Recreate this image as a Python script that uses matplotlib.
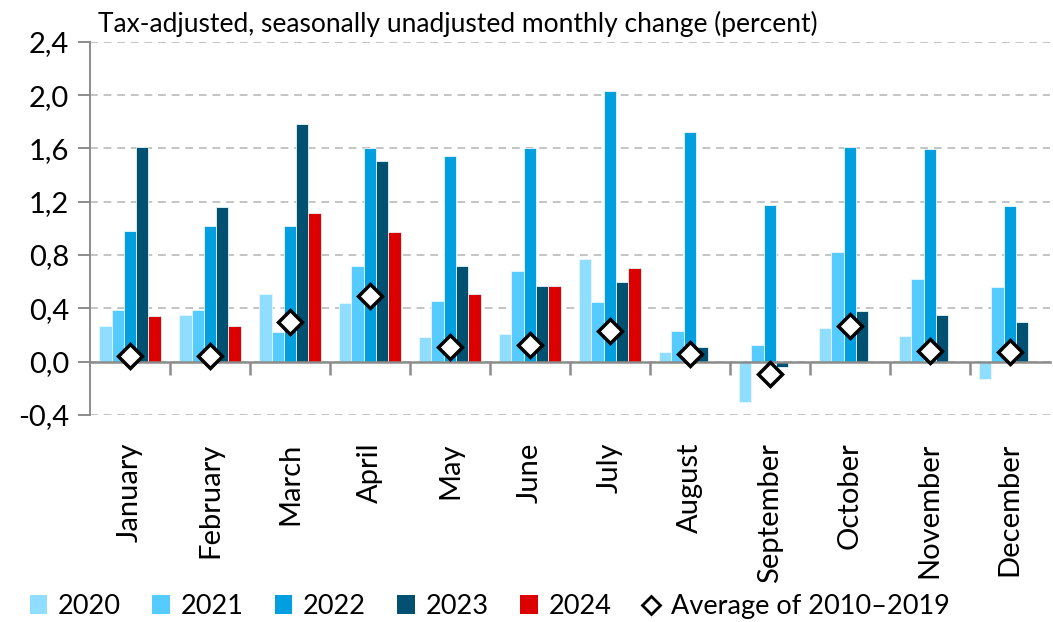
import matplotlib
matplotlib.use('Agg')
import matplotlib.pyplot as plt
from matplotlib.lines import Line2D
from matplotlib.patches import Patch
import numpy as np

plt.rcParams['font.family'] = ['Lato', 'DejaVu Sans']

months = ['January', 'February', 'March', 'April', 'May', 'June', 'July',
          'August', 'September', 'October', 'November', 'December']
years = ['2020', '2021', '2022', '2023', '2024']
y2020 = [0.27, 0.35, 0.505, 0.44, 0.185, 0.21, 0.77, 0.07, -0.30, 0.255, 0.195, -0.13]
y2021 = [0.39, 0.385, 0.22, 0.72, 0.455, 0.68, 0.445, 0.23, 0.125, 0.825, 0.62, 0.56]
y2022 = [0.98, 1.015, 1.02, 1.60, 1.545, 1.60, 2.03, 1.72, 1.175, 1.61, 1.595, 1.17]
y2023 = [1.61, 1.16, 1.78, 1.505, 0.72, 0.565, 0.60, 0.11, -0.04, 0.38, 0.35, 0.30]
y2024 = [0.34, 0.27, 1.115, 0.97, 0.505, 0.57, 0.70]
avg_2010_2019 = [0.04, 0.04, 0.30, 0.49, 0.11, 0.125, 0.23, 0.06, -0.09, 0.27, 0.08, 0.075]
yticks = [-0.4, 0.0, 0.4, 0.8, 1.2, 1.6, 2.0, 2.4]

colors = ['#8FDDFF', '#55CBFF', '#009FE0', '#005072', '#DD0000']
series = [y2020, y2021, y2022, y2023, y2024]

fig = plt.figure(figsize=(10.53, 6.22), dpi=100)
ax = fig.add_axes([0.0855, 0.333, 0.9115, 0.5997])

x = np.arange(len(months))
w = 0.154
for i, (vals, c) in enumerate(zip(series, colors)):
    xs = x[:len(vals)] + (i - 2) * w
    ax.bar(xs, vals, width=w, color=c, edgecolor='#E8F6FC', linewidth=0.6, zorder=3)

ax.plot(x, avg_2010_2019, linestyle='none', marker='D', markersize=12,
        markerfacecolor='white', markeredgecolor='black', markeredgewidth=2.5, zorder=5)

ax.set_xlim(-0.5, len(months) - 0.5)
ax.set_ylim(-0.4, 2.4)
ax.set_yticks(yticks)
ax.set_yticklabels([f'{v:.1f}'.replace('.', ',') for v in yticks], fontsize=21)
ax.yaxis.grid(True, linestyle=(0, (4, 3)), color='#C4C4C4', linewidth=1.4, zorder=0)
ax.tick_params(axis='y', length=9, width=1.4, color='#8C8C8C', pad=6)

for s in ['top', 'right']:
    ax.spines[s].set_visible(False)
ax.spines['left'].set_color('#8C8C8C')
ax.spines['left'].set_linewidth(1.4)
ax.spines['bottom'].set_position(('data', 0))
ax.spines['bottom'].set_color('#8C8C8C')
ax.spines['bottom'].set_linewidth(1.8)
ax.spines['bottom'].set_zorder(4)
ax.set_xticks(x)
ax.set_xticklabels([])
ax.tick_params(axis='x', which='major', length=0)
ax.set_xticks(np.arange(0.5, len(months) - 0.5), minor=True)
ax.tick_params(axis='x', which='minor', length=9, width=1.8, color='#8C8C8C')

sec = ax.secondary_xaxis(-0.0)
sec.set_xticks(x)
sec.set_xticklabels(months, rotation=90, fontsize=21)
sec.tick_params(length=0, pad=20)
sec.spines['bottom'].set_visible(False)

ax.text(0.008, 1.012, 'Tax-adjusted, seasonally unadjusted monthly change (percent)',
        transform=ax.transAxes, fontsize=19, ha='left', va='bottom')

handles = [Patch(facecolor=c, edgecolor='none') for c in colors]
handles.append(Line2D([], [], linestyle='none', marker='D', markersize=9,
                      markerfacecolor='white', markeredgecolor='black', markeredgewidth=2))
labels = years + ['Average of 2010\u20132019']
fig.legend(handles, labels, loc='lower left', bbox_to_anchor=(0.005, -0.035), ncol=6,
           frameon=False, fontsize=19.5, handlelength=0.65, handleheight=0.7,
           handletextpad=0.4, columnspacing=1.15)

fig.savefig('out.png', dpi=100)
